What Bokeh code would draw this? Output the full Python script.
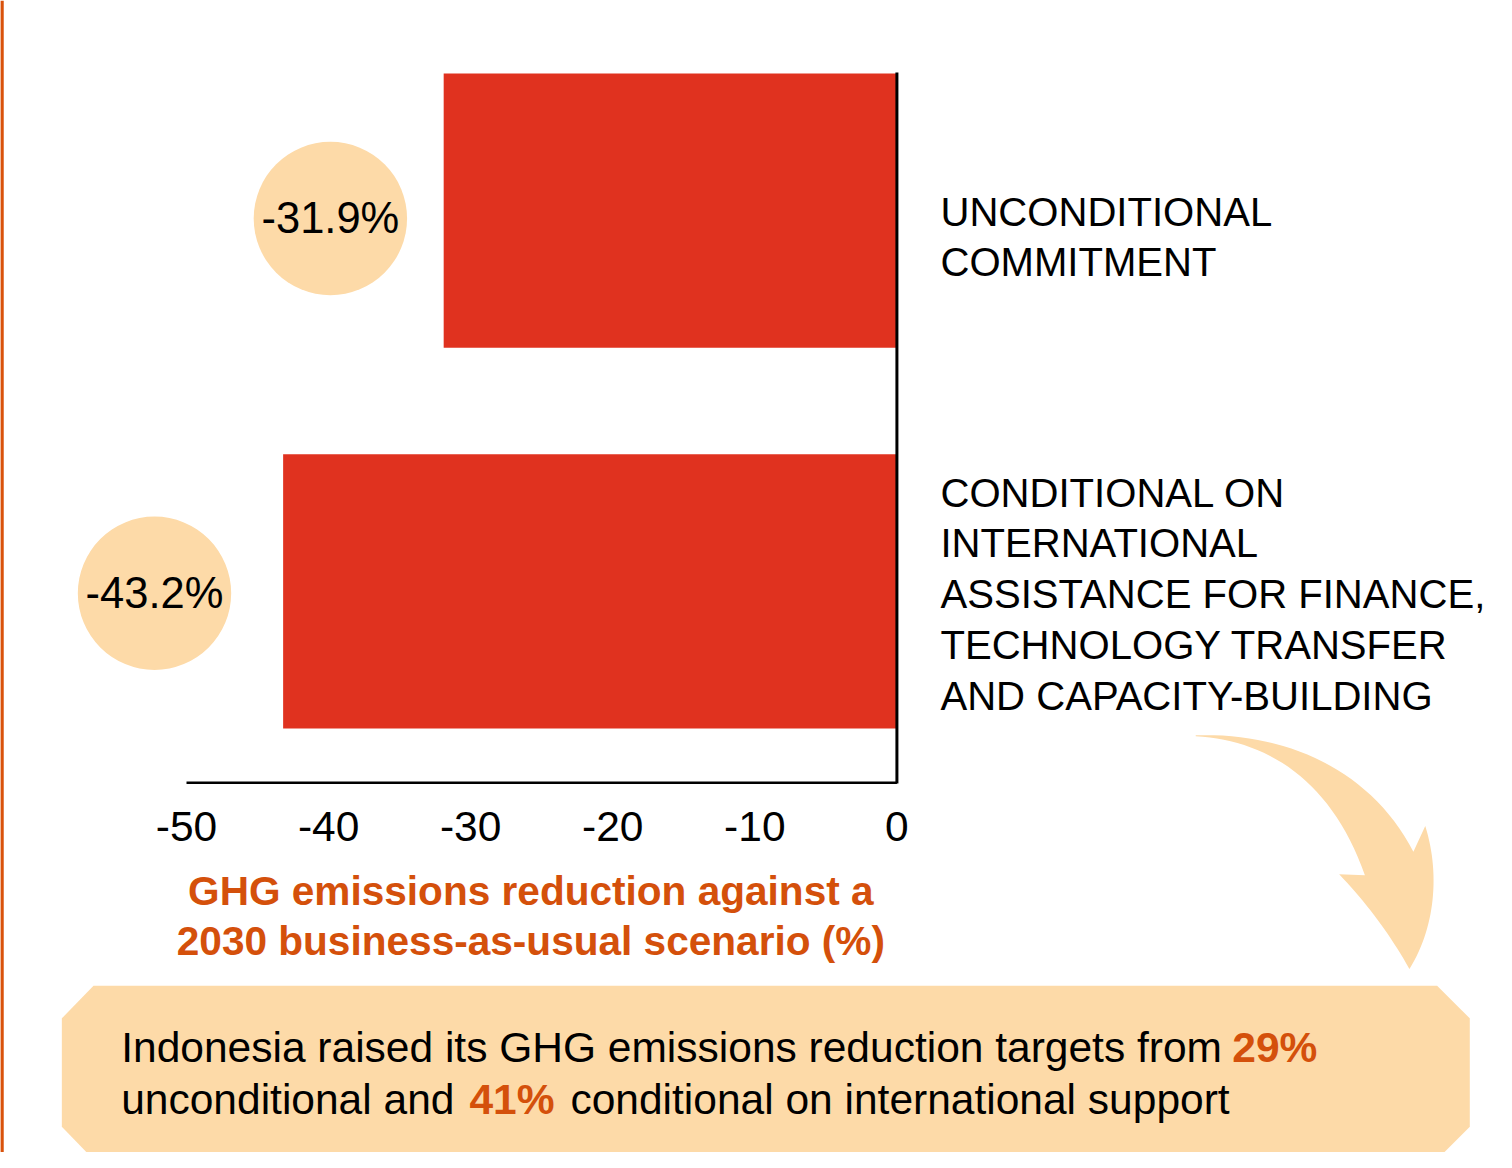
from bokeh.plotting import figure
from bokeh.models import Range1d
from bokeh.core.properties import value
from bokeh.embed import file_html
from bokeh.resources import INLINE

# ---------------- data ----------------
categories = [
    ["UNCONDITIONAL", "COMMITMENT"],
    ["CONDITIONAL ON", "INTERNATIONAL", "ASSISTANCE FOR FINANCE,",
     "TECHNOLOGY TRANSFER", "AND CAPACITY-BUILDING"],
]
reduction = [-31.9, -43.2]
bar_labels = ["-31.9%", "-43.2%"]
x_ticks = [-50, -40, -30, -20, -10, 0]
x_tick_labels = ["-50", "-40", "-30", "-20", "-10", "0"]
axis_title = ["GHG emissions reduction against a",
              "2030 business-as-usual scenario (%)"]
note_line1 = ["Indonesia raised its GHG emissions reduction targets from ", "29%"]
note_line2 = ["unconditional and ", "41%", "conditional on international support"]

# ---------------- layout / style ----------------
W, H = 1496, 1152
REF_W, REF_H = 1512, 1168
S = W / REF_W                     # screen-size scale
FONT = value("Liberation Sans")
RED = "#E0321F"
PEACH = "#FDDAA8"
ORANGE = "#D4500B"


def fs(px):
    return "%.1fpx" % (px * S)


slots = [1, 0]                 # vertical slot of each category
PX_PER_UNIT_X = 718 / 50.0     # layout pixels per % on the value axis
PX_PER_SLOT = 386.0


def px2x(px):
    return -50 + (px - 188) / PX_PER_UNIT_X


def py2y(py):
    return (599 - py) / PX_PER_SLOT


def dpx(d):
    return d / PX_PER_UNIT_X


def dpy(d):
    return d / PX_PER_SLOT


p = figure(width=W, height=H, output_backend="svg", toolbar_location=None,
           x_range=Range1d(px2x(0), px2x(REF_W)),
           y_range=Range1d(py2y(REF_H), py2y(0)),
           x_axis_type=None, y_axis_type=None, min_border=0,
           background_fill_color="white", border_fill_color="white")
p.outline_line_color = None
p.grid.visible = False

# left orange rule
p.segment(x0=[px2x(1.5)], y0=[py2y(0)], x1=[px2x(1.5)], y1=[py2y(REF_H)],
          line_color="#D9520B", line_width=3.5)

# bars
bar_h = 278 / PX_PER_SLOT
p.hbar(y=slots, left=0, right=reduction, height=bar_h, fill_color=RED, line_color=None)

# axis lines
p.segment(x0=[x_ticks[0]], y0=[py2y(793)], x1=[x_ticks[-1]], y1=[py2y(793)],
          line_color="black", line_width=2.5)
p.segment(x0=[0], y0=[py2y(73)], x1=[0], y1=[py2y(794)], line_color="black", line_width=3)

# tick labels
p.text(x=x_ticks, y=[py2y(837)] * len(x_ticks), text=x_tick_labels,
       text_font=FONT, text_font_size=fs(43), text_align="center",
       text_baseline="middle", text_color="black")

# axis title
title_y = [py2y(903), py2y(954)]
p.text(x=[px2x(536)] * 2, y=title_y, text=axis_title, text_font=FONT,
       text_font_size=fs(41), text_font_style="bold", text_align="center",
       text_baseline="middle", text_color=ORANGE)

# value bubbles
gap_px = [114.5, 130]
dy_px = [8, 2]
bx = [r - dpx(g) for r, g in zip(reduction, gap_px)]
by = [s - dpy(d) for s, d in zip(slots, dy_px)]
p.scatter(x=bx, y=by, size=155 * S, fill_color=PEACH, line_color=None)
p.text(x=bx, y=by, text=bar_labels, text_font=FONT, text_font_size=fs(44),
       text_align="center", text_baseline="middle", text_color="black")

# category labels (right side)
first_line_off = [1, -100]
line_gap = 51.5
lx, ly, lt = [], [], []
for s, lines, off in zip(slots, categories, first_line_off):
    for i, ln in enumerate(lines):
        lx.append(px2x(950))
        ly.append(s - dpy(off + i * line_gap))
        lt.append(ln)
p.text(x=lx, y=ly, text=lt, text_font=FONT, text_font_size=fs(40.5),
       text_align="left", text_baseline="middle", text_color="black")


# curved arrow (decoration)
def cubic(p0, p1, p2, p3, n=30):
    pts = []
    for i in range(n + 1):
        t = i / n
        a, b, c, d = (1 - t) ** 3, 3 * (1 - t) ** 2 * t, 3 * (1 - t) * t ** 2, t ** 3
        pts.append((a * p0[0] + b * p1[0] + c * p2[0] + d * p3[0],
                    a * p0[1] + b * p1[1] + c * p2[1] + d * p3[1]))
    return pts


def quad(p0, p1, p2, n=20):
    pts = []
    for i in range(n + 1):
        t = i / n
        a, b, c = (1 - t) ** 2, 2 * (1 - t) * t, t ** 2
        pts.append((a * p0[0] + b * p1[0] + c * p2[0], a * p0[1] + b * p1[1] + c * p2[1]))
    return pts


arrow = []
arrow += cubic((1208, 745), (1300, 742), (1385, 780), (1428, 863))
arrow += [(1440, 837)]
arrow += cubic((1440, 837), (1455, 885), (1450, 940), (1424, 982))
arrow += quad((1424, 982), (1395, 930), (1353, 886))
arrow += [(1379, 887)]
arrow += cubic((1379, 887), (1345, 790), (1280, 750), (1208, 746))
p.patch(x=[px2x(a) for a, b in arrow], y=[py2y(b) for a, b in arrow],
        fill_color=PEACH, line_color=None)

# note box
box = [(94, 999), (1452, 999), (1485, 1032), (1485, 1142), (1451, 1176),
       (95, 1176), (62, 1142), (62, 1032)]
p.patch(x=[px2x(a) for a, b in box], y=[py2y(b) for a, b in box],
        fill_color=PEACH, line_color=None)

# note text
n1y, n2y = py2y(1062), py2y(1114)
p.text(x=[px2x(122)], y=[n1y], text=[note_line1[0]], text_font=FONT, text_font_size=fs(43),
       text_align="left", text_baseline="middle", text_color="black")
p.text(x=[px2x(1245)], y=[n1y], text=[note_line1[1]], text_font=FONT, text_font_size=fs(43),
       text_font_style="bold", text_align="left", text_baseline="middle", text_color=ORANGE)
p.text(x=[px2x(122)], y=[n2y], text=[note_line2[0]], text_font=FONT, text_font_size=fs(43),
       text_align="left", text_baseline="middle", text_color="black")
p.text(x=[px2x(474)], y=[n2y], text=[note_line2[1]], text_font=FONT, text_font_size=fs(43),
       text_font_style="bold", text_align="left", text_baseline="middle", text_color=ORANGE)
p.text(x=[px2x(576)], y=[n2y], text=[note_line2[2]], text_font=FONT, text_font_size=fs(43),
       text_align="left", text_baseline="middle", text_color="black")

open("out.html", "w").write(file_html(p, INLINE))
